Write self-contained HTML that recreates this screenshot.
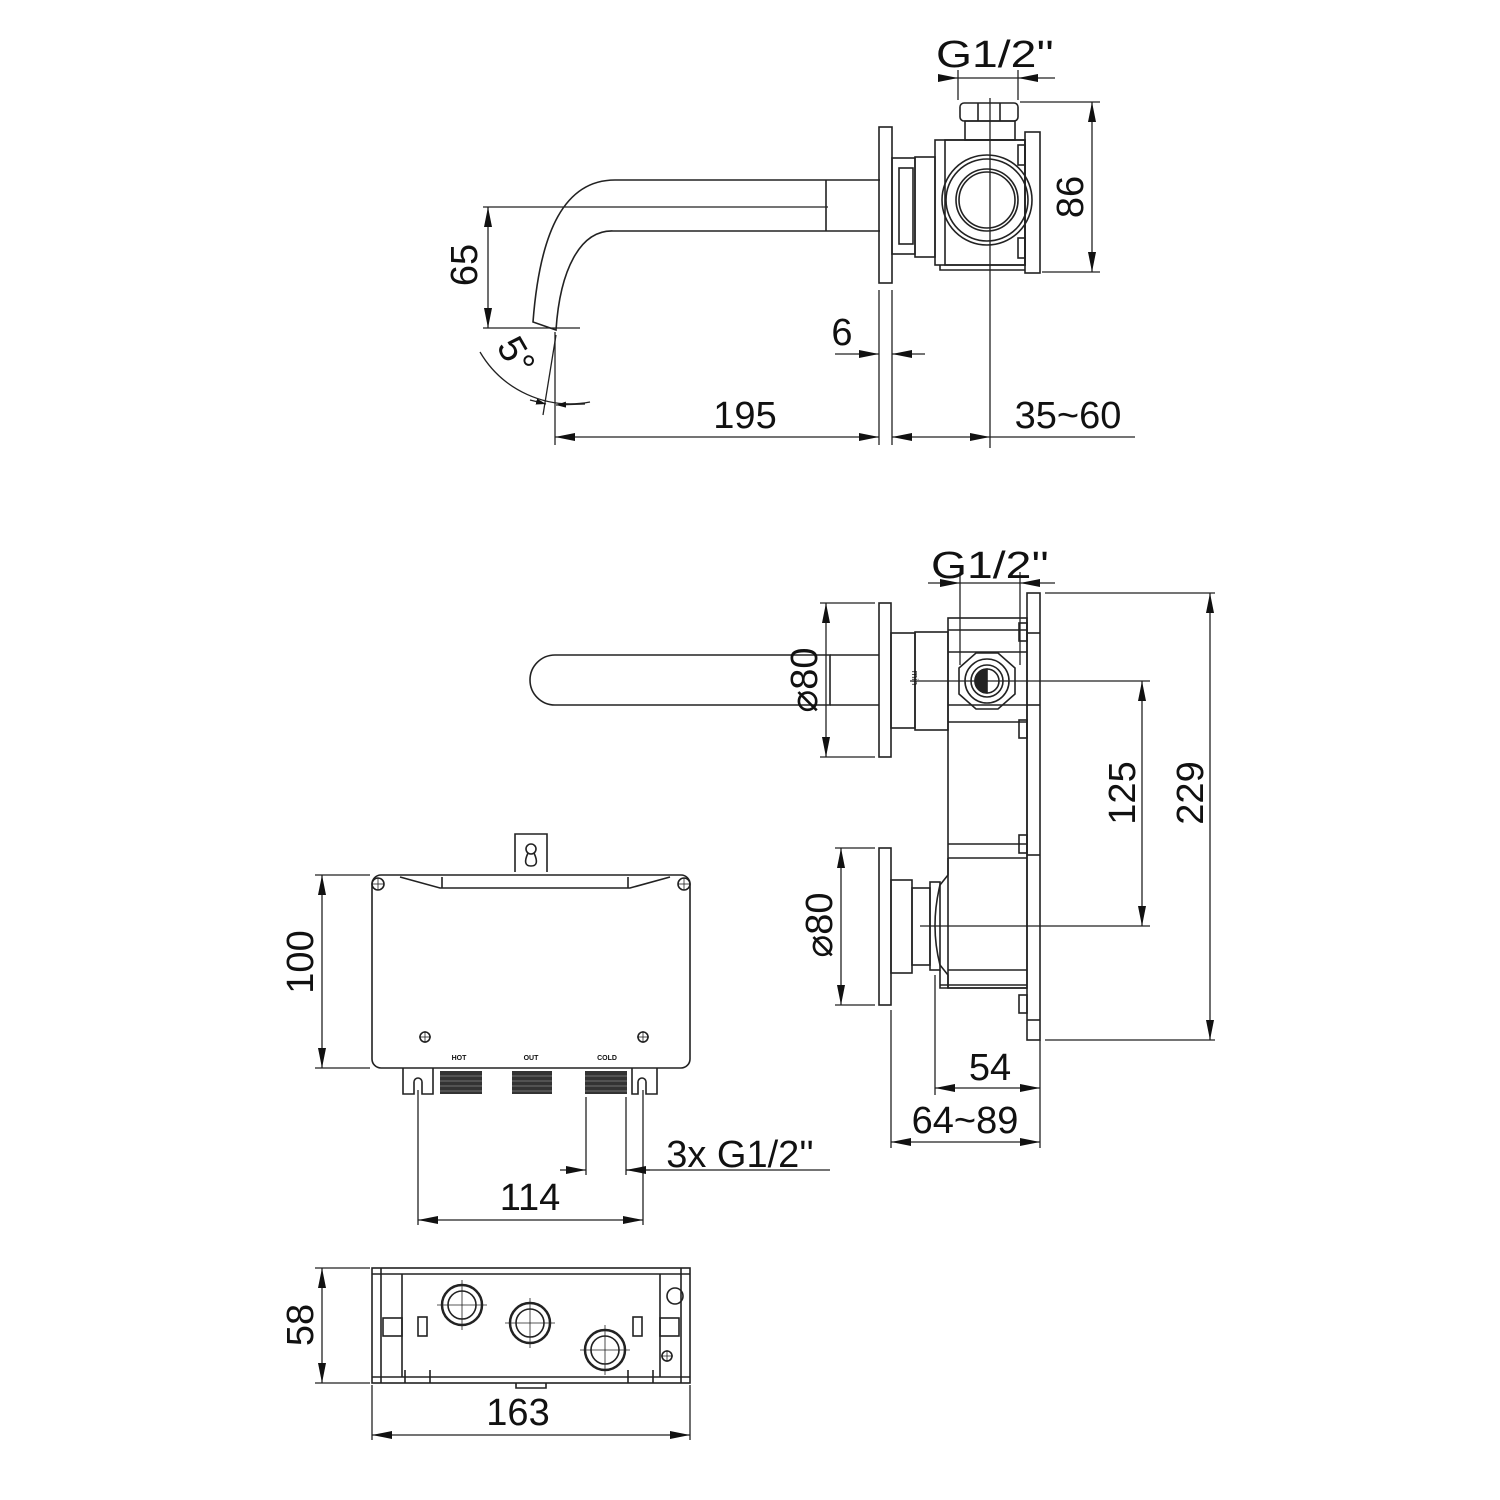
<!DOCTYPE html>
<html><head><meta charset="utf-8"><style>
html,body{margin:0;padding:0;background:#fff}
svg{display:block}
text{font-family:"Liberation Sans",sans-serif;fill:#111}
</style></head><body>
<svg width="1500" height="1500" viewBox="0 0 1500 1500" xmlns="http://www.w3.org/2000/svg">
<defs>
<marker id="a" viewBox="0 0 10 6" refX="10" refY="3" markerWidth="10" markerHeight="6" orient="auto-start-reverse" markerUnits="userSpaceOnUse"><path d="M0,0L10,3L0,6z" fill="#111"/></marker>
<marker id="b" viewBox="0 0 20 8" refX="20" refY="4" markerWidth="20" markerHeight="8" orient="auto-start-reverse" markerUnits="userSpaceOnUse"><path d="M0,0L20,4L0,8z" fill="#111"/></marker>
</defs>
<g fill="none" stroke="#222" stroke-width="1.6">
<!-- ===== TOP VIEW ===== -->
<path d="M880,180 H615 C565,180 540,230 533,322 L556,330 C560,270 580,230 613,231 H880"/>
<line x1="826" y1="180" x2="826" y2="231"/>
<rect x="879" y="127" width="13" height="156"/>
<rect x="892" y="158" width="23" height="96"/>
<rect x="899" y="168" width="14" height="76"/>
<rect x="915" y="157" width="20" height="100"/>
<rect x="935" y="140" width="90" height="125"/>
<rect x="945" y="140" width="80" height="125"/>
<circle cx="987" cy="200" r="45"/>
<circle cx="987" cy="200" r="41"/>
<circle cx="987" cy="200" r="31"/>
<circle cx="987" cy="200" r="28"/>
<rect x="1025" y="132" width="15" height="141"/>
<rect x="1018" y="145" width="7" height="20"/>
<rect x="1018" y="238" width="7" height="20"/>
<rect x="960" y="103" width="58" height="18" rx="4"/>
<line x1="978" y1="103" x2="978" y2="121"/><line x1="1000" y1="103" x2="1000" y2="121"/>
<rect x="965" y="121" width="50" height="19"/>
<path d="M940,265 V270 H1025" />
</g>
<g fill="none" stroke="#222" stroke-width="1.3">
<line x1="990" y1="98" x2="990" y2="448"/>
<!-- G1/2 top -->
<line x1="958" y1="70" x2="958" y2="100"/><line x1="1018" y1="70" x2="1018" y2="100"/>
<line x1="938" y1="78" x2="958" y2="78" marker-end="url(#b)"/>
<line x1="1055" y1="78" x2="1018" y2="78" marker-end="url(#b)"/>
<line x1="958" y1="78" x2="1018" y2="78"/>
<!-- 86 -->
<line x1="1020" y1="102" x2="1100" y2="102"/><line x1="1042" y1="272" x2="1100" y2="272"/>
<line x1="1092" y1="102" x2="1092" y2="272" marker-start="url(#b)" marker-end="url(#b)"/>
<!-- 65 -->
<line x1="483" y1="207" x2="828" y2="207"/><line x1="483" y1="328" x2="580" y2="328"/>
<line x1="488" y1="207" x2="488" y2="328" marker-start="url(#b)" marker-end="url(#b)"/>
<!-- 5 deg -->
<line x1="555" y1="332" x2="555" y2="445"/>
<line x1="556" y1="335" x2="543" y2="415"/>
<path d="M480,352 A105,105 0 0 0 590,402"/>
<path d="M530,400 L546,404" marker-end="url(#a)"/>
<path d="M585,404 L556,405" marker-end="url(#a)"/>
<!-- 6 -->
<line x1="879" y1="290" x2="879" y2="445"/><line x1="892" y1="290" x2="892" y2="445"/>
<line x1="835" y1="354" x2="879" y2="354" marker-end="url(#b)"/>
<line x1="925" y1="354" x2="892" y2="354" marker-end="url(#b)"/>
<!-- 195 & 35~60 -->
<line x1="555" y1="437" x2="879" y2="437" marker-start="url(#b)" marker-end="url(#b)"/>
<line x1="892" y1="437" x2="990" y2="437" marker-start="url(#b)" marker-end="url(#b)"/>
<line x1="990" y1="437" x2="1135" y2="437"/>
</g>
<g font-size="38">
<text x="995" y="67" text-anchor="middle" textLength="118" lengthAdjust="spacingAndGlyphs">G1/2''</text>
<text transform="translate(1083,197) rotate(-90)" text-anchor="middle">86</text>
<text transform="translate(477,265) rotate(-90)" text-anchor="middle">65</text>
<text transform="translate(505,362) rotate(60)" text-anchor="middle">5°</text>
<text x="842" y="345" text-anchor="middle">6</text>
<text x="745" y="428" text-anchor="middle">195</text>
<text x="1068" y="428" text-anchor="middle">35~60</text>
</g>

<!-- ===== SIDE VIEW ===== -->
<g fill="none" stroke="#222" stroke-width="1.6">
<path d="M830,655 H555 A25,25 0 0 0 555,705 H830 Z"/>
<path d="M830,655 H879 M830,705 H879"/>
<rect x="879" y="603" width="12" height="154"/>
<rect x="891" y="633" width="24" height="95"/>
<rect x="915" y="632" width="33" height="98"/>
<rect x="948" y="618" width="79" height="370"/>
<line x1="948" y1="630" x2="1027" y2="630"/><line x1="948" y1="652" x2="1027" y2="652"/>
<line x1="948" y1="705" x2="1027" y2="705"/><line x1="948" y1="722" x2="1027" y2="722"/>
<line x1="948" y1="844" x2="1027" y2="844"/><line x1="948" y1="858" x2="1027" y2="858"/>
<line x1="948" y1="970" x2="1027" y2="970"/>
<rect x="1027" y="593" width="13" height="447"/>
<line x1="1027" y1="633" x2="1040" y2="633"/><line x1="1027" y1="705" x2="1040" y2="705"/>
<line x1="1027" y1="855" x2="1040" y2="855"/><line x1="1027" y1="1020" x2="1040" y2="1020"/>
<rect x="1019" y="623" width="8" height="18"/><rect x="1019" y="720" width="8" height="18"/>
<rect x="1019" y="835" width="8" height="18"/><rect x="1019" y="995" width="8" height="18"/>
<path d="M976,653 L998,653 L1015,668 L1015,694 L998,709 L976,709 L959,694 L959,668 Z"/>
<circle cx="987" cy="681" r="22"/>
<circle cx="987" cy="681" r="16"/>
<path d="M987,669 A12,12 0 0 0 987,693 Z" fill="#222"/>
<circle cx="987" cy="681" r="12"/>
<!-- lower -->
<rect x="879" y="848" width="12" height="157"/>
<rect x="891" y="880" width="21" height="93"/>
<rect x="912" y="888" width="18" height="77"/>
<rect x="930" y="882" width="10" height="88"/>
<path d="M948,858 V875 L940,885 Q930,926 940,965 L948,975 V988"/>
<path d="M940,970 V988 H1027 M940,985 H1027"/>
</g>
<text transform="translate(912,678) rotate(90)" font-size="9" text-anchor="middle">min</text>
<g fill="none" stroke="#222" stroke-width="1.3">
<line x1="960" y1="572" x2="960" y2="665"/><line x1="1020" y1="572" x2="1020" y2="665"/>
<line x1="928" y1="583" x2="960" y2="583" marker-end="url(#b)"/>
<line x1="1055" y1="583" x2="1020" y2="583" marker-end="url(#b)"/>
<line x1="960" y1="583" x2="1020" y2="583"/>
<line x1="820" y1="603" x2="875" y2="603"/><line x1="820" y1="757" x2="875" y2="757"/>
<line x1="826" y1="603" x2="826" y2="757" marker-start="url(#b)" marker-end="url(#b)"/>
<line x1="835" y1="848" x2="875" y2="848"/><line x1="835" y1="1005" x2="875" y2="1005"/>
<line x1="841" y1="848" x2="841" y2="1005" marker-start="url(#b)" marker-end="url(#b)"/>
<line x1="910" y1="681" x2="1150" y2="681"/>
<line x1="920" y1="926" x2="1150" y2="926"/>
<line x1="1142" y1="681" x2="1142" y2="926" marker-start="url(#b)" marker-end="url(#b)"/>
<line x1="1045" y1="593" x2="1215" y2="593"/><line x1="1045" y1="1040" x2="1215" y2="1040"/>
<line x1="1210" y1="593" x2="1210" y2="1040" marker-start="url(#b)" marker-end="url(#b)"/>
<line x1="935" y1="975" x2="935" y2="1095"/><line x1="1040" y1="1040" x2="1040" y2="1148"/>
<line x1="891" y1="1010" x2="891" y2="1148"/>
<line x1="935" y1="1088" x2="1040" y2="1088" marker-start="url(#b)" marker-end="url(#b)"/>
<line x1="891" y1="1142" x2="1040" y2="1142" marker-start="url(#b)" marker-end="url(#b)"/>
</g>
<g font-size="38">
<text x="990" y="578" text-anchor="middle" textLength="118" lengthAdjust="spacingAndGlyphs">G1/2''</text>
<text transform="translate(817,680) rotate(-90)" text-anchor="middle">⌀80</text>
<text transform="translate(832,925) rotate(-90)" text-anchor="middle">⌀80</text>
<text transform="translate(1135,793) rotate(-90)" text-anchor="middle">125</text>
<text transform="translate(1203,793) rotate(-90)" text-anchor="middle">229</text>
<text x="990" y="1080" text-anchor="middle">54</text>
<text x="965" y="1133" text-anchor="middle">64~89</text>
</g>

<!-- ===== FRONT BOX ===== -->
<g fill="none" stroke="#222" stroke-width="1.6">
<rect x="372" y="875" width="318" height="193" rx="9"/>
<path d="M515,872 V834 H547 V872"/>
<circle cx="531" cy="849" r="5"/><path d="M528,853 Q522,866 531,866 Q540,866 534,853"/>
<path d="M400,877 L440,888 H630 L670,877"/>
<line x1="442" y1="877" x2="442" y2="888"/><line x1="628" y1="877" x2="628" y2="888"/>
<circle cx="378" cy="884" r="6"/><circle cx="684" cy="884" r="6"/>
<circle cx="425" cy="1037" r="5"/><circle cx="643" cy="1037" r="5"/>
<path d="M403,1068 V1094 H414 V1082 A4,4 0 0 1 422,1082 V1094 H433 V1068"/>
<path d="M632,1068 V1094 H638 V1082 A4,4 0 0 1 646,1082 V1094 H657 V1068"/>
</g>
<g stroke="#222" stroke-width="0.8">
<line x1="372" y1="884" x2="384" y2="884"/><line x1="378" y1="878" x2="378" y2="890"/>
<line x1="678" y1="884" x2="690" y2="884"/><line x1="684" y1="878" x2="684" y2="890"/>
<line x1="419" y1="1037" x2="431" y2="1037"/><line x1="425" y1="1031" x2="425" y2="1043"/>
<line x1="637" y1="1037" x2="649" y2="1037"/><line x1="643" y1="1031" x2="643" y2="1043"/>
</g>
<g fill="#333">
<rect x="440" y="1071" width="42" height="23"/><rect x="512" y="1071" width="40" height="23"/><rect x="585" y="1071" width="42" height="23"/>
</g>
<g stroke="#888" stroke-width="0.8">
<path d="M440,1076H482M440,1081H482M440,1086H482M440,1091H482M512,1076H552M512,1081H552M512,1086H552M512,1091H552M585,1076H627M585,1081H627M585,1086H627M585,1091H627"/>
</g>
<g font-size="7" font-weight="bold" text-anchor="middle">
<text x="459" y="1060">HOT</text><text x="531" y="1060">OUT</text><text x="607" y="1060">COLD</text>
</g>
<g fill="none" stroke="#222" stroke-width="1.3">
<line x1="315" y1="875" x2="370" y2="875"/><line x1="315" y1="1068" x2="370" y2="1068"/>
<line x1="322" y1="875" x2="322" y2="1068" marker-start="url(#b)" marker-end="url(#b)"/>
<line x1="418" y1="1090" x2="418" y2="1225"/><line x1="643" y1="1090" x2="643" y2="1225"/>
<line x1="586" y1="1097" x2="586" y2="1175"/><line x1="626" y1="1097" x2="626" y2="1175"/>
<line x1="418" y1="1220" x2="643" y2="1220" marker-start="url(#b)" marker-end="url(#b)"/>
<line x1="560" y1="1170" x2="586" y2="1170" marker-end="url(#b)"/>
<line x1="830" y1="1170" x2="626" y2="1170"/>
<line x1="650" y1="1170" x2="626" y2="1170" marker-end="url(#b)"/>
</g>
<g font-size="38">
<text transform="translate(313,962) rotate(-90)" text-anchor="middle">100</text>
<text x="530" y="1210" text-anchor="middle">114</text>
<text x="740" y="1167" text-anchor="middle">3x G1/2''</text>
</g>

<!-- ===== BOTTOM VIEW ===== -->
<g fill="none" stroke="#222" stroke-width="1.6">
<rect x="372" y="1268" width="318" height="115"/>
<line x1="372" y1="1274" x2="690" y2="1274"/><line x1="372" y1="1377" x2="690" y2="1377"/>
<line x1="381" y1="1268" x2="381" y2="1383"/><line x1="681" y1="1268" x2="681" y2="1383"/>
<line x1="402" y1="1274" x2="402" y2="1377"/><line x1="660" y1="1274" x2="660" y2="1377"/>
<circle cx="462" cy="1305" r="20" stroke-width="2.5"/><circle cx="462" cy="1305" r="14"/>
<circle cx="530" cy="1323" r="20" stroke-width="2.5"/><circle cx="530" cy="1323" r="14"/>
<circle cx="605" cy="1350" r="20" stroke-width="2.5"/><circle cx="605" cy="1350" r="14"/>
<rect x="383" y="1318" width="19" height="18"/><rect x="418" y="1317" width="9" height="19"/>
<rect x="633" y="1317" width="9" height="19"/><rect x="660" y="1318" width="19" height="18"/>
<circle cx="675" cy="1296" r="8"/><circle cx="667" cy="1356" r="5"/>
<path d="M405,1383 V1370 M430,1383 V1370 M628,1383 V1370 M653,1383 V1370 M516,1383 V1388 H546 V1383"/>
</g>
<g stroke="#222" stroke-width="0.8">
<path d="M437,1305H487M462,1280V1330M505,1323H555M530,1298V1348M580,1350H630M605,1325V1375M661,1356H673M667,1350V1362"/>
</g>
<g fill="none" stroke="#222" stroke-width="1.3">
<line x1="315" y1="1268" x2="370" y2="1268"/><line x1="315" y1="1383" x2="370" y2="1383"/>
<line x1="322" y1="1268" x2="322" y2="1383" marker-start="url(#b)" marker-end="url(#b)"/>
<line x1="372" y1="1385" x2="372" y2="1440"/><line x1="690" y1="1385" x2="690" y2="1440"/>
<line x1="372" y1="1435" x2="690" y2="1435" marker-start="url(#b)" marker-end="url(#b)"/>
</g>
<g font-size="38">
<text transform="translate(313,1325) rotate(-90)" text-anchor="middle">58</text>
<text x="518" y="1425" text-anchor="middle">163</text>
</g>
</svg>
</body></html>
